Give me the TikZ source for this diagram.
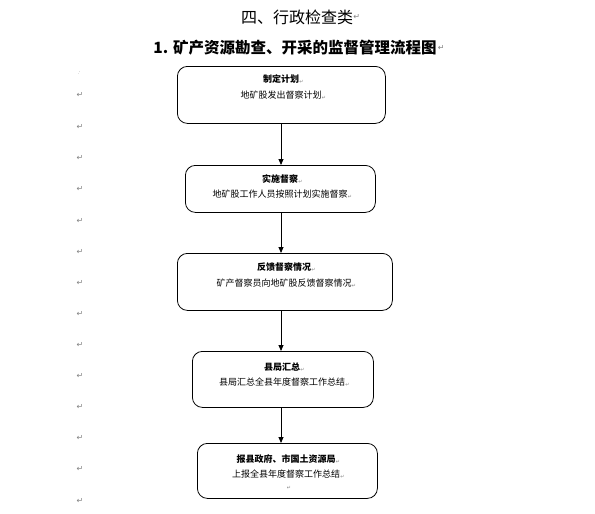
\documentclass[tikz,border=0pt]{standalone}
\usepackage{fontspec}
\setmainfont{Noto Sans CJK SC}
\newfontfamily\symf{DejaVu Sans}
\usetikzlibrary{arrows.meta}
\definecolor{markgray}{RGB}{130,130,130}
\tikzset{
  box/.style={draw=black, line width=0.8pt, rounded corners=10pt, inner sep=0pt, anchor=north west},
  btitle/.style={font=\fontsize{9}{10}\selectfont\bfseries, inner sep=0pt},
  btext/.style={font=\fontsize{9}{10}\selectfont, inner sep=0pt},
  arr/.style={line width=0.8pt, -{Triangle[length=6pt,width=5pt]}},
  pmark/.style={font=\symf\fontsize{8}{8}\selectfont, text=markgray, inner sep=0pt},
  tmark/.style={font=\symf\fontsize{5}{5}\selectfont, text=markgray, inner sep=0pt, anchor=south west},
}
\begin{document}
\begin{tikzpicture}[x=1pt,y=-1pt]
\useasboundingbox[fill=white] (0,0) rectangle (595,514);
% titles
\node[font=\fontsize{16}{18}\selectfont, inner sep=0pt] (t1) at (297,17) {四、行政检查类};
\node[pmark, anchor=west] (t1m) at (t1.east) {↵};
\node[font=\fontsize{15.5}{18}\selectfont\bfseries, inner sep=0pt] (t2) at (295,48) {1. 矿产资源勘查、开采的监督管理流程图};
\node[pmark, anchor=west] (t2m) at ([xshift=1pt]t2.east) {↵};
% left paragraph marks
\node[pmark, font=\symf\fontsize{4}{4}\selectfont] (m0) at (79,73) {.ˈ};
\foreach \y [count=\i] in {95,127,158,189,221,252,283,314,345,376,407,438,469,501}{
  \node[pmark] (m\i) at (80,\y) {↵};
}
% boxes
\node[box, minimum width=208pt, minimum height=57pt] (b1) at (177,66) {};
\node[btitle] (b1t) at (281,79) {制定计划};
\node[tmark] at (b1t.south east) {↵};
\node[btext] (b1s) at (281,95) {地矿股发出督察计划};
\node[tmark] at (b1s.south east) {↵};

\node[box, minimum width=190pt, minimum height=47pt] (b2) at (185,165) {};
\node[btitle] (b2t) at (280,179) {实施督察};
\node[tmark] at (b2t.south east) {↵};
\node[btext] (b2s) at (280,194) {地矿股工作人员按照计划实施督察};
\node[tmark] at (b2s.south east) {↵};

\node[box, minimum width=215pt, minimum height=57pt] (b3) at (177,253) {};
\node[btitle] (b3t) at (284,267) {反馈督察情况};
\node[tmark] at (b3t.south east) {↵};
\node[btext] (b3s) at (284,283) {矿产督察员向地矿股反馈督察情况};
\node[tmark] at (b3s.south east) {↵};

\node[box, minimum width=181pt, minimum height=56pt] (b4) at (192,351) {};
\node[btitle] (b4t) at (282,367) {县局汇总};
\node[tmark] at (b4t.south east) {↵};
\node[btext] (b4s) at (282,382) {县局汇总全县年度督察工作总结};
\node[tmark] at (b4s.south east) {↵};

\node[box, minimum width=180pt, minimum height=55pt] (b5) at (197,443) {};
\node[btitle] (b5t) at (286,459) {报县政府、市国土资源局};
\node[tmark] at (b5t.south east) {↵};
\node[btext] (b5s) at (286,474) {上报全县年度督察工作总结};
\node[tmark] at (b5s.south east) {↵};
\node[tmark, anchor=center] (b5e) at (289,488) {↵};
% arrows
\coordinate (ax) at (281,0);
\draw[arr] (b1.south -| ax) -- (b2.north -| ax);
\draw[arr] (b2.south -| ax) -- (b3.north -| ax);
\draw[arr] (b3.south -| ax) -- (b4.north -| ax);
\draw[arr] (b4.south -| ax) -- (b5.north -| ax);
\end{tikzpicture}
\end{document}
